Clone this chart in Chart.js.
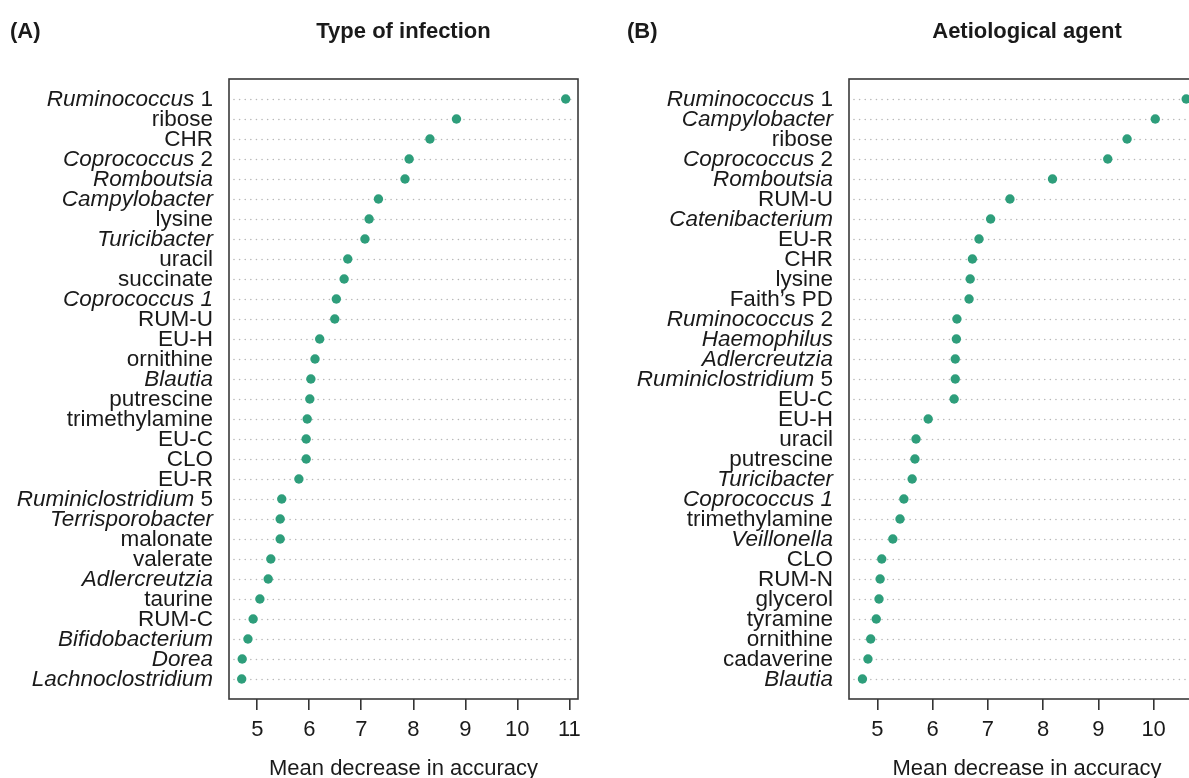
<!DOCTYPE html>
<html>
<head>
<meta charset="utf-8">
<script src="https://cdn.jsdelivr.net/npm/chart.js@4/dist/chart.umd.min.js"></script>
<style>
  html, body { margin: 0; padding: 0; background: #fff; }
  #wrap { position: relative; width: 1189px; height: 778px; overflow: hidden; }
  .panel { position: absolute; top: 0; height: 778px; }
  .head { position: absolute; top: 20px; font: bold 22px "Liberation Sans", Arial, sans-serif;
          color: #1a1a1a; line-height: 22px; white-space: nowrap; }
</style>
</head>
<body>
<div id="wrap">
  <div class="panel" style="left:0;width:600px"><canvas id="chartA" width="600" height="778"></canvas></div>
  <div class="panel" style="left:600px;width:640px"><canvas id="chartB" width="640" height="778"></canvas></div>
  <div class="head" style="left:10px">(A)</div>
  <div class="head" style="left:229px;width:349px;text-align:center">Type of infection</div>
  <div class="head" style="left:627px">(B)</div>
  <div class="head" style="left:849px;width:356px;text-align:center">Aetiological agent</div>
</div>
<script>
// Variable importance (mean decrease in accuracy). Genus names are wrapped in * * to be set in italics.
const labelsA = [
  '*Ruminococcus* 1', 'ribose', 'CHR', '*Coprococcus* 2', '*Romboutsia*', '*Campylobacter*',
  'lysine', '*Turicibacter*', 'uracil', 'succinate', '*Coprococcus 1*', 'RUM-U', 'EU-H',
  'ornithine', '*Blautia*', 'putrescine', 'trimethylamine', 'EU-C', 'CLO', 'EU-R',
  '*Ruminiclostridium* 5', '*Terrisporobacter*', 'malonate', 'valerate', '*Adlercreutzia*',
  'taurine', 'RUM-C', '*Bifidobacterium*', '*Dorea*', '*Lachnoclostridium*'
];
const valuesA = [
  10.93, 8.83, 8.32, 7.92, 7.84, 7.33, 7.15, 7.07, 6.74, 6.67,
  6.52, 6.49, 6.20, 6.11, 6.03, 6.01, 5.96, 5.94, 5.94, 5.80,
  5.47, 5.44, 5.44, 5.26, 5.21, 5.05, 4.92, 4.82, 4.71, 4.70
];

const labelsB = [
  '*Ruminococcus* 1', '*Campylobacter*', 'ribose', '*Coprococcus* 2', '*Romboutsia*', 'RUM-U',
  '*Catenibacterium*', 'EU-R', 'CHR', 'lysine', 'Faith\u2019s PD', '*Ruminococcus* 2',
  '*Haemophilus*', '*Adlercreutzia*', '*Ruminiclostridium* 5', 'EU-C', 'EU-H', 'uracil',
  'putrescine', '*Turicibacter*', '*Coprococcus 1*', 'trimethylamine', '*Veillonella*', 'CLO',
  'RUM-N', 'glycerol', 'tyramine', 'ornithine', 'cadaverine', '*Blautia*'
];
const valuesB = [
  10.59, 10.03, 9.52, 9.17, 8.17, 7.40, 7.05, 6.84, 6.72, 6.68,
  6.66, 6.44, 6.43, 6.41, 6.41, 6.39, 5.92, 5.70, 5.68, 5.63,
  5.48, 5.41, 5.28, 5.08, 5.05, 5.03, 4.98, 4.88, 4.83, 4.73
];

const xTicksA = [5, 6, 7, 8, 9, 10, 11];
const xTicksB = [5, 6, 7, 8, 9, 10];
const xTitle = 'Mean decrease in accuracy';

const FONT = '"Liberation Sans", Arial, sans-serif';
const INK = '#1a1a1a';
const DOT = '#2e9e7b';
const LABEL_SIZE = 22.5;

// Split "*italic* plain" markup into styled runs.
function runs(label) {
  return label.split('*').map((t, i) => ({ text: t, italic: i % 2 === 1 })).filter(r => r.text.length);
}

// Row labels with mixed italic/upright runs, dotted guide lines and the frame.
const dotPlotDecor = {
  id: 'dotPlotDecor',
  beforeDatasetsDraw(chart, args, opts) {
    const { ctx, chartArea: a } = chart;
    const y = chart.scales.y;
    ctx.save();
    ctx.strokeStyle = '#b8b8b8';
    ctx.lineWidth = 1.6;
    ctx.lineCap = 'round';
    ctx.setLineDash([0.01, 5.6]);
    opts.labels.forEach((_, i) => {
      const py = Math.round(y.getPixelForValue(i)) + 0.5;
      ctx.beginPath();
      ctx.moveTo(a.left + 5, py);
      ctx.lineTo(a.right - 5, py);
      ctx.stroke();
    });
    ctx.restore();
  },
  afterDraw(chart, args, opts) {
    const { ctx, chartArea: a } = chart;
    const y = chart.scales.y;
    ctx.save();
    ctx.strokeStyle = '#3a3a3a';
    ctx.lineWidth = 1.6;
    ctx.strokeRect(a.left, a.top, a.right - a.left, a.bottom - a.top);
    ctx.fillStyle = INK;
    ctx.textBaseline = 'middle';
    ctx.textAlign = 'left';
    opts.labels.forEach((lab, i) => {
      const parts = runs(lab);
      const widths = parts.map(p => {
        ctx.font = (p.italic ? 'italic ' : '') + LABEL_SIZE + 'px ' + FONT;
        return ctx.measureText(p.text).width;
      });
      let x = a.left - 16 - widths.reduce((s, w) => s + w, 0);
      const py = y.getPixelForValue(i) + 1;
      parts.forEach((p, k) => {
        ctx.font = (p.italic ? 'italic ' : '') + LABEL_SIZE + 'px ' + FONT;
        ctx.fillText(p.text, x, py);
        x += widths[k];
      });
    });
    ctx.restore();
  }
};

function makeChart(id, labels, values, ticks, xMin, xMax, padLeft, padRight) {
  return new Chart(document.getElementById(id), {
    type: 'scatter',
    data: {
      datasets: [{
        data: values.map((v, i) => ({ x: v, y: i })),
        backgroundColor: DOT,
        borderWidth: 0,
        pointRadius: 4.7,
        pointHoverRadius: 4.7
      }]
    },
    options: {
      responsive: false,
      animation: false,
      events: [],
      layout: { padding: { left: padLeft, right: padRight, top: 79, bottom: 0 } },
      plugins: {
        legend: { display: false },
        tooltip: { enabled: false },
        dotPlotDecor: { labels: labels }
      },
      scales: {
        x: {
          type: 'linear',
          min: xMin,
          max: xMax,
          afterBuildTicks: s => { s.ticks = ticks.map(v => ({ value: v })); },
          afterFit: s => { s.height = 79; },
          border: { display: false },
          grid: { drawOnChartArea: false, drawTicks: true, tickLength: 11, color: '#333', lineWidth: 1.6 },
          ticks: { color: INK, font: { family: FONT, size: 22 }, padding: 7, maxRotation: 0 },
          title: {
            display: true, text: xTitle, color: INK,
            font: { family: FONT, size: 22, lineHeight: 0.8 },
            padding: { top: 0, bottom: 0 }
          }
        },
        y: {
          type: 'linear',
          reverse: true,
          min: -1,
          max: labels.length,
          afterFit: s => { s.width = 0; },
          border: { display: false },
          grid: { display: false },
          ticks: { display: false }
        }
      }
    },
    plugins: [dotPlotDecor]
  });
}

makeChart('chartA', labelsA, valuesA, xTicksA, 4.456, 11.167, 229, 22);
makeChart('chartB', labelsB, valuesB, xTicksB, 4.487, 10.93, 249, 35);
</script>
</body>
</html>
